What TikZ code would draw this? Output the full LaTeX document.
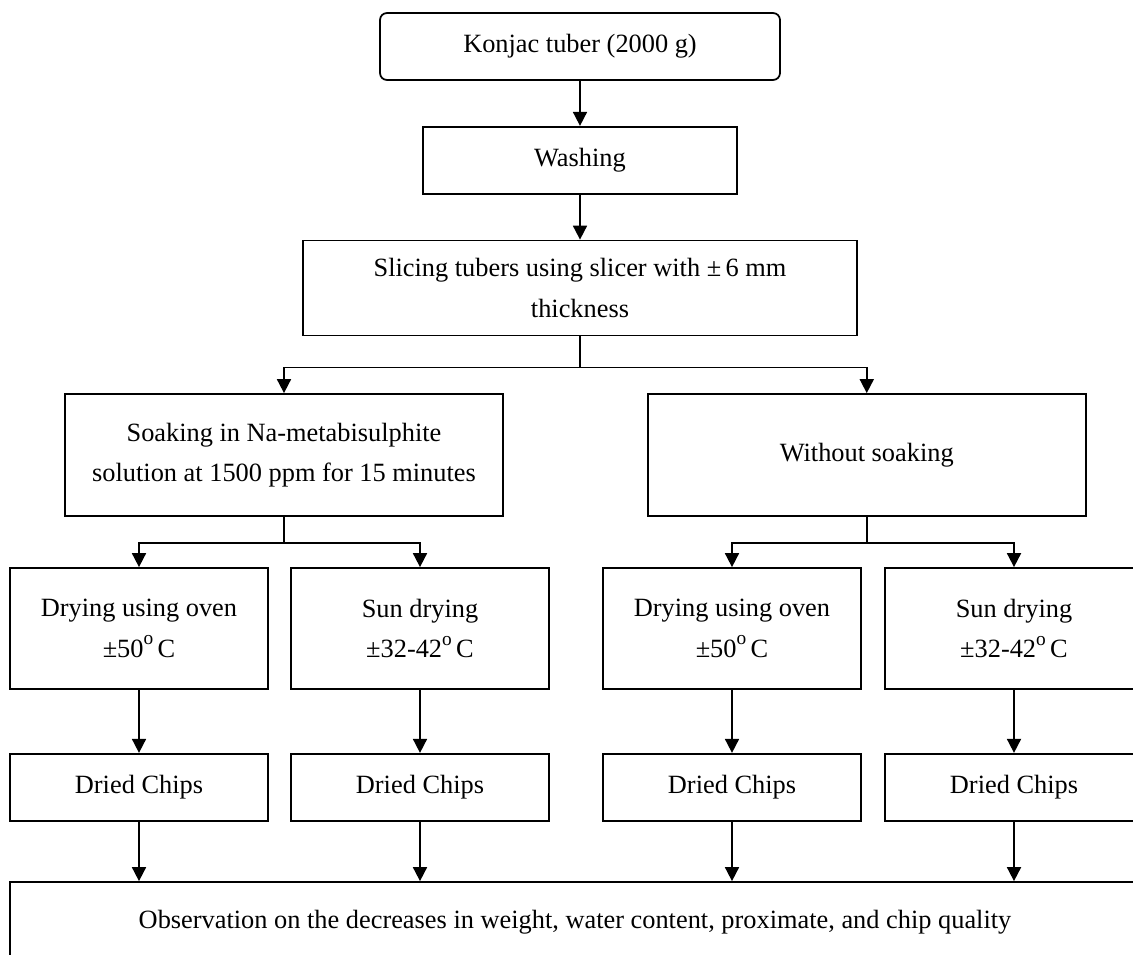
\documentclass[tikz,border=0pt]{standalone}
\usepackage{fontspec}
\setmainfont{Liberation Serif}
\usepackage{tikz}
\usetikzlibrary{arrows.meta, positioning}
\newcommand{\degsign}{\raisebox{1.05ex}{\fontsize{11}{11}\selectfont o}\,}

\begin{document}
\begin{tikzpicture}[
    box/.style={rectangle, draw, line width=1pt, minimum height=1.34cm, inner sep=2pt, align=center, font=\fontsize{15}{23}\selectfont},
    drybox/.style={box, minimum width=5.16cm, minimum height=2.42cm},
    chipbox/.style={box, minimum width=5.16cm},
    arrow/.style={-{Triangle[length=0.28cm, width=0.28cm]}, line width=1pt},
    link/.style={line width=1pt},
]
    \useasboundingbox (0,0) rectangle (22.66,-19.08);

    \node[box, rounded corners=4pt, minimum width=8cm] (konjac) at (11.6,-0.93) {Konjac tuber (2000 g)};
    \node[box, minimum width=6.28cm, below=0.9cm of konjac] (wash) {Washing};
    \node[box, minimum width=11.08cm, minimum height=1.9cm, below=0.9cm of wash] (slice) {Slicing tubers using slicer with ±\,6 mm\\thickness};

    \node[box, minimum width=8.76cm, minimum height=2.44cm] (soak) at (5.68,-9.1) {Soaking in Na-metabisulphite\\solution at 1500 ppm for 15 minutes};
    \node[box, minimum width=8.76cm, minimum height=2.44cm, right=2.86cm of soak] (nosoak) {Without soaking};

    \node[drybox] (oven1) at (2.78,-12.57) {Drying using oven\\±50\degsign C};
    \node[drybox] (sun1) at (8.4,-12.57) {Sun drying\\±32-42\degsign C};
    \node[drybox] (oven2) at (14.64,-12.57) {Drying using oven\\±50\degsign C};
    \node[drybox] (sun2) at (20.28,-12.57) {Sun drying\\±32-42\degsign C};

    \node[chipbox, below=1.26cm of oven1] (chips1) {Dried Chips};
    \node[chipbox, below=1.26cm of sun1] (chips2) {Dried Chips};
    \node[chipbox, below=1.26cm of oven2] (chips3) {Dried Chips};
    \node[chipbox, below=1.26cm of sun2] (chips4) {Dried Chips};

    \node[box, minimum width=22.6cm, minimum height=1.6cm] (obs) at (11.5,-18.44) {Observation on the decreases in weight, water content, proximate, and chip quality};

    \draw[arrow] (konjac) -- (wash);
    \draw[arrow] (wash) -- (slice);

    \draw[link] (slice.south) -- ++(0,-0.62) coordinate (split1);
    \draw[arrow] (split1) -| (soak);
    \draw[arrow] (split1) -| (nosoak);

    \draw[link] (soak.south) -- ++(0,-0.52) coordinate (split2);
    \draw[arrow] (split2) -| (oven1);
    \draw[arrow] (split2) -| (sun1);
    \draw[link] (nosoak.south) -- ++(0,-0.52) coordinate (split3);
    \draw[arrow] (split3) -| (oven2);
    \draw[arrow] (split3) -| (sun2);

    \draw[arrow] (oven1) -- (chips1);
    \draw[arrow] (sun1) -- (chips2);
    \draw[arrow] (oven2) -- (chips3);
    \draw[arrow] (sun2) -- (chips4);

    \draw[arrow] (chips1) -- (chips1 |- obs.north);
    \draw[arrow] (chips2) -- (chips2 |- obs.north);
    \draw[arrow] (chips3) -- (chips3 |- obs.north);
    \draw[arrow] (chips4) -- (chips4 |- obs.north);
\end{tikzpicture}
\end{document}
